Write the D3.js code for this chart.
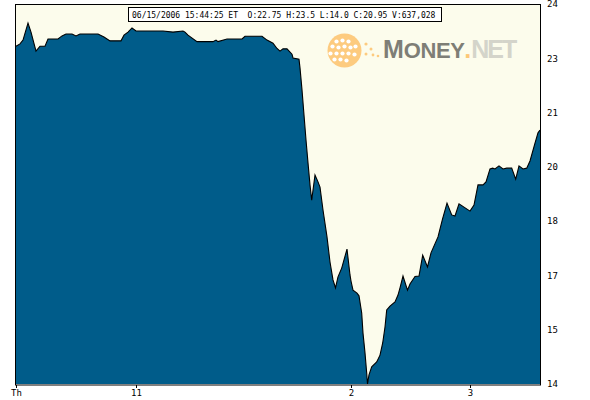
<!DOCTYPE html>
<html><head><meta charset="utf-8">
<script src="https://cdn.jsdelivr.net/npm/d3@7/dist/d3.min.js"></script>
<style>html,body{margin:0;padding:0;background:#fff;}svg{display:block;}</style>
</head><body>
<script>
// sample position along the session (trade-time axis) and last price
const pos = [0,4,7,12,15,20,24,29,32,42,46,50,56,60,64,74,82,88,94,105,108,112,116,120,147,157,167,169,172,181,197,200,202,211,226,229,246,251,257,261,264,267,271,276,277,283,284,286,288,290,292,294,295.7,299,302,304,307,311,314,317,319.5,322,325.7,331,334,335,337,341,343,345.7,347,349,350.7,351.5,353,355.7,360.7,364,366.7,369,370.7,374,379,382,384,387,391.5,394,399,403,406.7,411.5,415,422,426.5,431,435.7,439,443,454,458,462,467,470,474,476.7,479,483,487,490.7,495.7,499.7,503,507,510.7,514,519,522,524];
const price = [22.89,22.95,23.05,23.50,23.26,22.76,22.89,22.89,23.08,23.08,23.16,23.21,23.21,23.16,23.21,23.21,23.21,23.13,23.03,23.03,23.18,23.26,23.37,23.29,23.29,23.26,23.29,23.26,23.18,23.01,23.01,23.05,23.01,23.08,23.08,23.15,23.15,23.05,22.97,22.83,22.76,22.82,22.82,22.68,22.58,22.55,22.32,21.74,21.08,20.42,19.82,19.24,18.84,19.50,19.32,19.18,18.58,17.87,17.21,16.74,16.53,16.82,17.05,17.55,16.87,16.71,16.47,16.39,16.32,15.87,15.34,14.82,14.29,14.00,14.24,14.45,14.58,14.76,15.08,15.50,15.95,16.05,16.16,16.34,16.53,16.84,16.47,16.63,16.83,16.84,17.39,17.08,17.45,17.87,18.34,18.76,18.45,18.42,18.74,18.55,18.71,19.24,19.24,19.32,19.66,19.68,19.66,19.74,19.66,19.68,19.68,19.39,19.74,19.66,19.68,19.87,20.34,20.61,20.68];
const xTickPos = [0,120,335,454];
const xTickLabels = ["Th","11","2","3"];
const yTickValues = [14,15.43,16.86,18.29,19.71,21.14,22.57,24];
const headerText = "06/15/2006 15:44:25 ET  O:22.75 H:23.5 L:14.0 C:20.95 V:637,028";

const W = 590, H = 400;
const plot = {left:15, right:541, top:4, bottom:384};
const svg = d3.select("body").append("svg").attr("width",W).attr("height",H);
svg.append("rect").attr("width",W).attr("height",H).attr("fill","#fff");

const x = d3.scaleLinear().domain([0,524]).range([plot.left+1, plot.right-1]);
const y = d3.scaleLinear().domain([14,24]).range([plot.bottom, plot.top]);

svg.append("rect").attr("x",plot.left).attr("y",plot.top)
  .attr("width",plot.right-plot.left).attr("height",plot.bottom-plot.top)
  .attr("fill","#fcfcec");

// logo
const logo = svg.append("g");
logo.append("circle").attr("cx",344.5).attr("cy",50.5).attr("r",17).attr("fill","#fdcb7f");
const dotsIn = [[-8,-9],[-2,-10],[4,-9],[-12,-4],[-6,-3],[0,-4],[6,-3],[11,-4],[-14,3],[-8,3],[-2,3],[4,3],[10,4],[-10,9],[-4,9],[2,10]];
dotsIn.forEach(d=>logo.append("circle").attr("cx",344.5+d[0]).attr("cy",50.5+d[1]).attr("r",2.1).attr("fill","#fff"));
const dotsOut = [[366,44,1.6],[371,49,1.5],[366,54,1.5],[373,55,1.4],[378,56,1.3]];
dotsOut.forEach(d=>logo.append("circle").attr("cx",d[0]).attr("cy",d[1]).attr("r",d[2]).attr("fill","#fdcb7f"));
const lt = logo.append("text").attr("x",383).attr("y",58)
  .attr("font-family","Liberation Sans, Arial, sans-serif").attr("font-weight","bold").attr("fill","#7e7e76");
lt.append("tspan").attr("font-size","25px").text("M");
lt.append("tspan").attr("font-size","22px").attr("textLength",61).text("ONEY");
lt.append("tspan").attr("font-size","25px").attr("fill","#fcc878").text(".");
lt.append("tspan").attr("font-size","25px").attr("fill","#d4d4ca").attr("textLength",46).text("NET");

// area
const area = d3.area().x((d,i)=>x(pos[i])).y0(plot.bottom).y1(d=>y(d));
const line = d3.line().x((d,i)=>x(pos[i])).y(d=>y(d));
svg.append("path").datum(price).attr("d",area).attr("fill","#005c8a");
svg.append("path").datum(price).attr("d",line).attr("fill","none").attr("stroke","#000").attr("stroke-width",1.1);

// frame
svg.append("rect").attr("x",plot.left+0.5).attr("y",plot.top+0.5)
  .attr("width",plot.right-plot.left-1).attr("height",plot.bottom-plot.top+0.5)
  .attr("fill","none").attr("stroke","#000").attr("stroke-width",1);

// header box
svg.append("rect").attr("x",128.5).attr("y",7.5).attr("width",313).attr("height",14)
  .attr("fill","#fff").attr("stroke","#000");
svg.append("text").attr("x",132).attr("y",18).attr("font-family","DejaVu Sans Mono, monospace")
  .attr("font-size","8px").attr("fill","#000").attr("xml:space","preserve").style("white-space","pre").text(headerText);

// y axis (right)
const yAxis = d3.axisRight(y).tickValues(yTickValues).tickSize(0).tickPadding(6)
  .tickFormat(d=>d3.format(".0f")(d));
const gy = svg.append("g").attr("transform",`translate(${plot.right},0)`).call(yAxis);
gy.select(".domain").remove();
gy.selectAll("text").attr("font-family","DejaVu Sans Mono, monospace").attr("font-size","9px").attr("fill","#000");

// x axis
const xAxis = d3.axisBottom(x).tickValues(xTickPos).tickSize(3).tickPadding(2)
  .tickFormat((d,i)=>xTickLabels[i]);
const gx = svg.append("g").attr("transform",`translate(0,${plot.bottom+1})`).call(xAxis);
gx.select(".domain").remove();
gx.selectAll("line").attr("stroke","#000");
gx.selectAll("text").attr("font-family","DejaVu Sans Mono, monospace").attr("font-size","9px").attr("fill","#000");
</script>
</body></html>
